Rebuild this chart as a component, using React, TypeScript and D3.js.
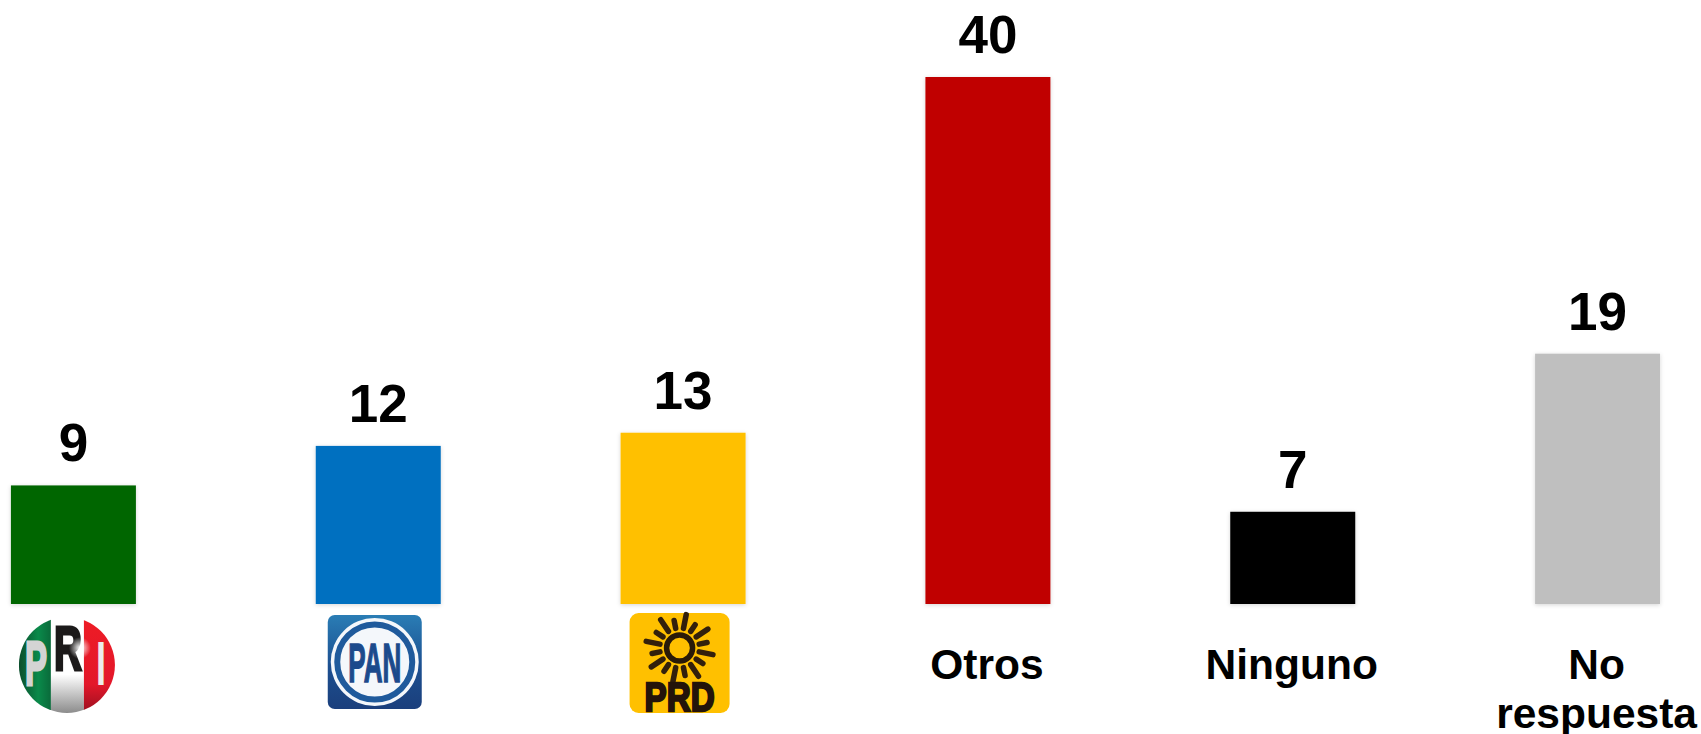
import React from "react";
import * as d3 from "d3";

const categories = ["PRI", "PAN", "PRD", "Otros", "Ninguno", "No respuesta"];
const values = [9, 12, 13, 40, 7, 19];
const colors = ["#006600", "#0070C0", "#FFC000", "#C00000", "#000000", "#BFBFBF"];
const textLabels: Record<string, string[]> = {
  Otros: ["Otros"],
  Ninguno: ["Ninguno"],
  "No respuesta": ["No", "respuesta"],
};

const W = 1701;
const H = 734;
const FONT = "'Liberation Sans', Arial, sans-serif";

const x = d3.scaleBand<string>().domain(categories).range([-79, 1750]).paddingInner(0.59).paddingOuter(0.295);
const y = d3.scaleLinear().domain([0, 40]).range([604, 77]);

function PriLogo({ cx }: { cx: number }) {
  const cy = 665, r = 48;
  const left = cx - r;
  return (
    <g>
      <clipPath id="priClip"><circle cx={cx} cy={cy} r={r} /></clipPath>
      <g clipPath="url(#priClip)">
        <rect x={left} y={cy - r} width={32} height={2 * r} fill="url(#priGreen)" />
        <rect x={left + 32} y={cy - r} width={33} height={2 * r} fill="url(#priWhite)" />
        <rect x={left + 65} y={cy - r} width={32} height={2 * r} fill="url(#priRed)" />
      </g>
      <text x={left + 17} y={cy + 20} textAnchor="middle" fontFamily={FONT} fontWeight="bold" fontSize={63} fill="#d4d4d4" stroke="#d4d4d4" strokeWidth={3} textLength={22} lengthAdjust="spacingAndGlyphs">P</text>
      <text x={left + 49} y={cy + 5} textAnchor="middle" fontFamily={FONT} fontWeight="bold" fontSize={63} fill="#1c1a1a" stroke="#1c1a1a" strokeWidth={3} textLength={28} lengthAdjust="spacingAndGlyphs">R</text>
      <text x={left + 82} y={cy + 20} textAnchor="middle" fontFamily={FONT} fontWeight="bold" fontSize={63} fill="#ececec" textLength={10} lengthAdjust="spacingAndGlyphs">I</text>
      <circle cx={cx + 13} cy={cy - 17} r={11} fill="url(#priGlow)" />
    </g>
  );
}

function PanLogo({ cx }: { cx: number }) {
  const cy = 662;
  return (
    <g>
      <rect x={cx - 47} y={cy - 47} width={94} height={94} rx={7} fill="url(#panGrad)" />
      <circle cx={cx} cy={cy} r={44} fill="#f4f7fb" />
      <circle cx={cx} cy={cy} r={37.5} fill="none" stroke="#1f5a9c" strokeWidth={6} />
      <text x={cx} y={cy + 20} textAnchor="middle" fontFamily={FONT} fontWeight="bold" fontSize={55} fill="#1c4a8c" stroke="#1c4a8c" strokeWidth={1.6} textLength={53} lengthAdjust="spacingAndGlyphs">PAN</text>
    </g>
  );
}

function PrdLogo({ cx }: { cx: number }) {
  const cy = 663;
  const sunY = 648;
  const rays = d3.range(16).map((i) => (i * 2 * Math.PI) / 16 + Math.PI / 16);
  return (
    <g>
      <rect x={cx - 50} y={cy - 50} width={100} height={100} rx={9} fill="#FFC000" />
      {rays.map((a, i) => {
        const outer = i % 2 === 0 ? 34 : 28;
        return (
          <line key={i} x1={cx + 20 * Math.cos(a)} y1={sunY + 20 * Math.sin(a)} x2={cx + outer * Math.cos(a)} y2={sunY + outer * Math.sin(a)} stroke="#33200c" strokeWidth={5.5} strokeLinecap="round" />
        );
      })}
      <circle cx={cx} cy={sunY} r={13} fill="#FFC000" stroke="#2a1a08" strokeWidth={5.5} />
      <text x={cx} y={cy + 48} textAnchor="middle" fontFamily={FONT} fontWeight="bold" fontSize={41} fill="#24140a" stroke="#24140a" strokeWidth={2.4} textLength={70} lengthAdjust="spacingAndGlyphs">PRD</text>
    </g>
  );
}

export default function App() {
  const logos: Record<string, (cx: number) => React.ReactNode> = {
    PRI: (cx) => <PriLogo cx={cx - 6.5} />,
    PAN: (cx) => <PanLogo cx={cx - 3.5} />,
    PRD: (cx) => <PrdLogo cx={cx - 3.5} />,
  };
  return (
    <svg width={W} height={H} viewBox={`0 0 ${W} ${H}`} style={{ position: "absolute", left: 0, top: 0, background: "#fff" }}>
      <defs>
        <filter id="soft" x="-10%" y="-10%" width="120%" height="120%">
          <feDropShadow dx={0} dy={1} stdDeviation={2} floodColor="#000" floodOpacity={0.16} />
        </filter>
        <linearGradient id="panGrad" x1="0" y1="0" x2="0" y2="1">
          <stop offset="0" stopColor="#2a7db5" />
          <stop offset="0.55" stopColor="#1c4f90" />
          <stop offset="1" stopColor="#1b3f7c" />
        </linearGradient>
        <linearGradient id="priGreen" x1="0" y1="0" x2="1" y2="0">
          <stop offset="0" stopColor="#0b4d2c" />
          <stop offset="0.6" stopColor="#0a8a4a" />
          <stop offset="1" stopColor="#0a6a3a" />
        </linearGradient>
        <linearGradient id="priWhite" x1="0" y1="0" x2="0" y2="1">
          <stop offset="0.6" stopColor="#ffffff" />
          <stop offset="1" stopColor="#8c8c8c" />
        </linearGradient>
        <linearGradient id="priRed" x1="0" y1="0" x2="0" y2="1">
          <stop offset="0" stopColor="#ee1c25" />
          <stop offset="0.7" stopColor="#e3172a" />
          <stop offset="1" stopColor="#9a1020" />
        </linearGradient>
        <radialGradient id="priGlow">
          <stop offset="0" stopColor="#fff" />
          <stop offset="1" stopColor="#fff" stopOpacity={0} />
        </radialGradient>
      </defs>
      {categories.map((c, i) => {
        const bx = x(c)!;
        const cx = bx + x.bandwidth() / 2;
        const top = y(values[i]);
        return (
          <g key={c}>
            <rect x={bx} y={top} width={x.bandwidth()} height={y(0) - top} fill={colors[i]} filter="url(#soft)" />
            <text x={cx} y={top - 24} textAnchor="middle" fontFamily={FONT} fontWeight="bold" fontSize={53} fill="#000">{values[i]}</text>
            {logos[c] && logos[c](cx)}
            {textLabels[c] && (
              <text textAnchor="middle" fontFamily={FONT} fontWeight="bold" fontSize={42.5} fill="#000">
                {textLabels[c].map((t, j) => (
                  <tspan key={t} x={cx - 1} y={679 + j * 49}>{t}</tspan>
                ))}
              </text>
            )}
          </g>
        );
      })}
    </svg>
  );
}
